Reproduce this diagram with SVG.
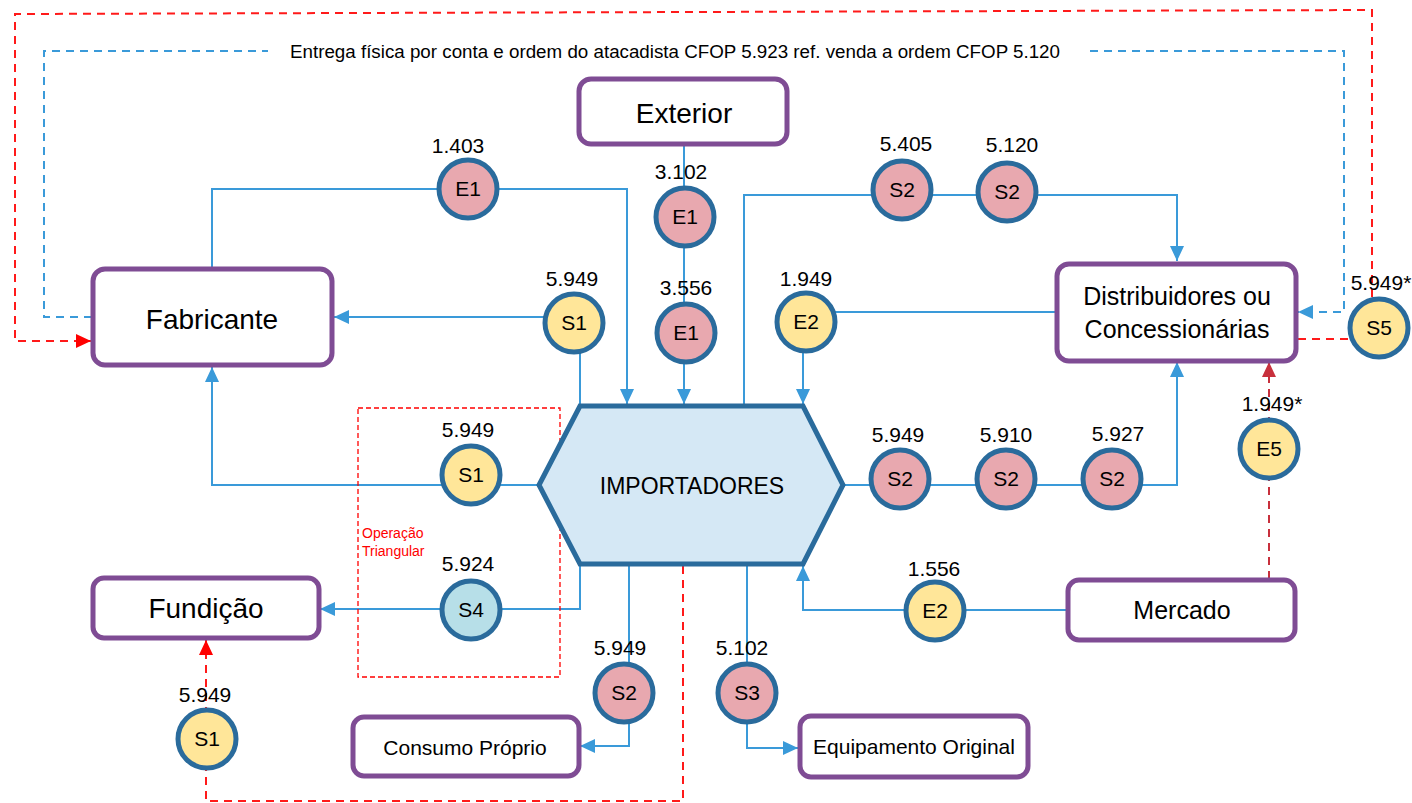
<svg xmlns="http://www.w3.org/2000/svg" width="1412" height="803" viewBox="0 0 1412 803">
<style>
.box{fill:#fff;stroke:#7F4C94;stroke-width:5}
.c{stroke:#2A6B9C;stroke-width:5}
.pk{fill:#E8A8AF}.yl{fill:#FFE699}.lb{fill:#B7DFE8}
.ln{fill:none;stroke:#3A9AD9;stroke-width:2}
.bd{fill:none;stroke:#3A9AD9;stroke-width:2;stroke-dasharray:8 6}
.rd{fill:none;stroke:#FF1A1A;stroke-width:2;stroke-dasharray:8 6}
.cd{fill:none;stroke:#C8303C;stroke-width:2;stroke-dasharray:8 6}
.t{font-family:"Liberation Sans",Arial,sans-serif;fill:#000;text-anchor:middle}
.n{font-size:21px}
.cl{font-size:21px}
</style>
<defs>
<marker id="ab" markerUnits="userSpaceOnUse" markerWidth="16" markerHeight="14" refX="15" refY="7" orient="auto"><path d="M0,0 L15,7 L0,14 Z" fill="#3A9AD9"/></marker>
<marker id="ar" markerUnits="userSpaceOnUse" markerWidth="16" markerHeight="14" refX="15" refY="7" orient="auto"><path d="M0,0 L15,7 L0,14 Z" fill="#FF0000"/></marker>
<marker id="ac" markerUnits="userSpaceOnUse" markerWidth="16" markerHeight="14" refX="15" refY="7" orient="auto"><path d="M0,0 L15,7 L0,14 Z" fill="#C8303C"/></marker>
</defs>

<g id="connectors">
<path class="ln" d="M212,269 V189 H627 V404" marker-end="url(#ab)"/>
<path class="ln" d="M684,145 V404" marker-end="url(#ab)"/>
<path class="ln" d="M580,406 V317 H334" marker-end="url(#ab)"/>
<path class="ln" d="M540,485 H212 V367" marker-end="url(#ab)"/>
<path class="ln" d="M580,565 V609 H320" marker-end="url(#ab)"/>
<path class="ln" d="M629,565 V746 H580" marker-end="url(#ab)"/>
<path class="ln" d="M747,565 V748 H798" marker-end="url(#ab)"/>
<path class="ln" d="M1067,610 H803 V566" marker-end="url(#ab)"/>
<path class="ln" d="M843,485 H1177 V362" marker-end="url(#ab)"/>
<path class="ln" d="M1057,312 H803 V404" marker-end="url(#ab)"/>
<path class="ln" d="M744,406 V195 H1177 V261" marker-end="url(#ab)"/>
<path class="bd" d="M92,317 H44 V51 H268"/>
<path class="bd" d="M1090,51 H1344 V312 H1298" marker-end="url(#ab)"/>
<path class="rd" d="M1372,297 V10 L15,14 V341 H91" marker-end="url(#ar)"/>
<path class="rd" d="M1348,339 H1297"/>
<path class="rd" d="M683,566 V801 H206 V640" marker-end="url(#ar)"/>
<path class="cd" d="M1269,579 V362" marker-end="url(#ac)"/>
<rect x="358" y="408" width="202" height="269" fill="none" stroke="#FF0000" stroke-width="1.3" stroke-dasharray="5 3"/>
</g>

<text class="t" x="675" y="58" font-size="17.5" textLength="770" lengthAdjust="spacingAndGlyphs">Entrega física por conta e ordem do atacadista CFOP 5.923 ref. venda a ordem CFOP 5.120</text>
<text font-family="'Liberation Sans',Arial,sans-serif" font-size="14" fill="#FF0000" x="362" y="538">Operação</text>
<text font-family="'Liberation Sans',Arial,sans-serif" font-size="14" fill="#FF0000" x="362" y="556">Triangular</text>

<g id="importadores">
<polygon points="580,406 803,406 843,485 803,564 580,564 539,485" fill="#D5E8F5" stroke="#2A6B9C" stroke-width="5" stroke-linejoin="miter"/>
<text class="t" x="692" y="494" font-size="23">IMPORTADORES</text>
</g>

<g id="fabricante"><rect class="box" x="93" y="269" width="239" height="96" rx="12"/><text class="t" x="212" y="329" font-size="28">Fabricante</text></g>
<g id="exterior"><rect class="box" x="579" y="79" width="208" height="65" rx="12"/><text class="t" x="684" y="123" font-size="28">Exterior</text></g>
<g id="distribuidores"><rect class="box" x="1057" y="264" width="239" height="97" rx="12"/><text class="t" x="1177" y="305" font-size="25">Distribuidores ou</text><text class="t" x="1177" y="338" font-size="25">Concessionárias</text></g>
<g id="fundicao"><rect class="box" x="93" y="578" width="226" height="60" rx="11"/><text class="t" x="206" y="618" font-size="28">Fundição</text></g>
<g id="mercado"><rect class="box" x="1068" y="580" width="227" height="60" rx="11"/><text class="t" x="1182" y="619" font-size="25">Mercado</text></g>
<g id="consumo"><rect class="box" x="353" y="717" width="226" height="59" rx="11"/><text class="t" x="465" y="755" font-size="21">Consumo Próprio</text></g>
<g id="equipamento"><rect class="box" x="800" y="716" width="228" height="61" rx="11"/><text class="t" x="914" y="754" font-size="21">Equipamento Original</text></g>

<g id="e1-1403"><circle class="c pk" cx="468" cy="189" r="29"/><text class="t cl" x="468" y="196">E1</text><text class="t n" x="458" y="153">1.403</text></g>
<g id="e1-3102"><circle class="c pk" cx="685" cy="217" r="29"/><text class="t cl" x="685" y="224">E1</text><text class="t n" x="681" y="179">3.102</text></g>
<g id="e1-3556"><circle class="c pk" cx="686" cy="333" r="29"/><text class="t cl" x="686" y="340">E1</text><text class="t n" x="686" y="295">3.556</text></g>
<g id="s1-top"><circle class="c yl" cx="574" cy="323" r="29"/><text class="t cl" x="574" y="330">S1</text><text class="t n" x="572" y="286">5.949</text></g>
<g id="e2-1949"><circle class="c yl" cx="806" cy="322" r="29"/><text class="t cl" x="806" y="329">E2</text><text class="t n" x="806" y="286">1.949</text></g>
<g id="s2-5405"><circle class="c pk" cx="902" cy="190" r="29"/><text class="t cl" x="902" y="197">S2</text><text class="t n" x="906" y="151">5.405</text></g>
<g id="s2-5120"><circle class="c pk" cx="1007" cy="192" r="29"/><text class="t cl" x="1007" y="199">S2</text><text class="t n" x="1012" y="152">5.120</text></g>
<g id="s5"><circle class="c yl" cx="1379" cy="328" r="29"/><text class="t cl" x="1379" y="335">S5</text><text class="t n" x="1381" y="290">5.949*</text></g>
<g id="e5"><circle class="c yl" cx="1269" cy="449" r="29"/><text class="t cl" x="1269" y="456">E5</text><text class="t n" x="1272" y="411">1.949*</text></g>
<g id="s1-left"><circle class="c yl" cx="471" cy="475" r="29"/><text class="t cl" x="471" y="482">S1</text><text class="t n" x="468" y="437">5.949</text></g>
<g id="s4"><circle class="c lb" cx="471" cy="610" r="29"/><text class="t cl" x="471" y="617">S4</text><text class="t n" x="468" y="571">5.924</text></g>
<g id="s2-5949r"><circle class="c pk" cx="900" cy="479" r="29"/><text class="t cl" x="900" y="486">S2</text><text class="t n" x="898" y="442">5.949</text></g>
<g id="s2-5910"><circle class="c pk" cx="1006" cy="479" r="29"/><text class="t cl" x="1006" y="486">S2</text><text class="t n" x="1006" y="442">5.910</text></g>
<g id="s2-5927"><circle class="c pk" cx="1112" cy="479" r="29"/><text class="t cl" x="1112" y="486">S2</text><text class="t n" x="1118" y="441">5.927</text></g>
<g id="e2-1556"><circle class="c yl" cx="935" cy="611" r="29"/><text class="t cl" x="935" y="618">E2</text><text class="t n" x="934" y="576">1.556</text></g>
<g id="s2-5949b"><circle class="c pk" cx="624" cy="693" r="29"/><text class="t cl" x="624" y="700">S2</text><text class="t n" x="620" y="655">5.949</text></g>
<g id="s3"><circle class="c pk" cx="747" cy="693" r="29"/><text class="t cl" x="747" y="700">S3</text><text class="t n" x="742" y="655">5.102</text></g>
<g id="s1-bottom"><circle class="c yl" cx="207" cy="739" r="29"/><text class="t cl" x="207" y="746">S1</text><text class="t n" x="205" y="702">5.949</text></g>
</svg>
